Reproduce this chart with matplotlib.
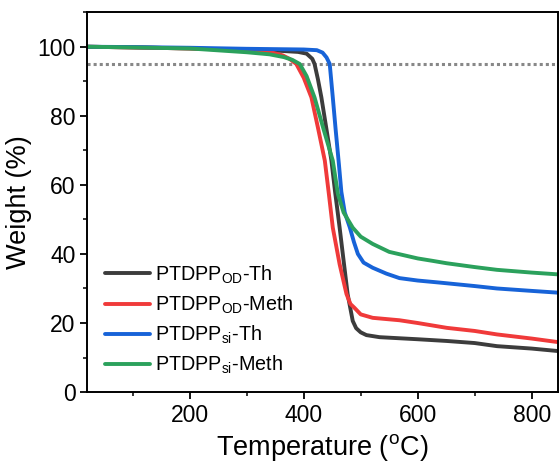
import matplotlib.pyplot as plt
from matplotlib.ticker import MultipleLocator

plt.rcParams['font.family'] = 'Liberation Sans'
plt.rcParams['mathtext.fontset'] = 'custom'
plt.rcParams['mathtext.rm'] = 'Liberation Sans'
plt.rcParams['mathtext.it'] = 'Liberation Sans'

# TGA curves
t_od_th = [20, 100, 200, 300, 360, 390, 405, 415, 419, 425, 431, 440, 448.6, 455, 463, 470, 477,
           486, 492, 500, 510, 533, 600, 651, 700, 739, 800, 845]
w_od_th = [100, 99.8, 99.5, 99, 98.8, 98.5, 98, 96.5, 95, 90.5, 85.3, 76, 67, 58, 47.6, 38, 28.4,
           20.6, 18.5, 17.3, 16.5, 15.9, 15.3, 14.8, 14.2, 13.3, 12.6, 11.9]

t_od_meth = [20, 100, 200, 300, 340, 363, 375, 387, 400, 413.5, 425, 437, 444, 451, 463, 475, 482,
             489, 500, 521, 568, 600, 651, 700, 739, 800, 845]
w_od_meth = [100, 99.8, 99.5, 99, 98.5, 97.5, 96.5, 95, 91, 85.3, 76.5, 67, 57.5, 47.6, 37, 28.4, 25.5,
             24.4, 22.5, 21.5, 20.8, 20, 18.6, 17.7, 16.7, 15.5, 14.5]

t_si_th = [20, 100, 200, 300, 400, 423, 433, 440, 445.6, 451, 456, 461.7, 466, 472, 481, 488, 495,
           505, 521, 545, 568, 600, 639, 700, 739, 800, 845]
w_si_th = [100, 99.9, 99.7, 99.4, 99.2, 99, 98.3, 96.9, 95, 85.3, 76, 66, 58, 52, 47.6, 43.5, 40,
           37.5, 36, 34.3, 33, 32.3, 31.7, 30.7, 30, 29.3, 28.8]

t_si_meth = [20, 100, 200, 300, 340, 365, 380, 393, 405, 419, 435, 451, 460, 470, 486, 500, 521,
             550, 600, 626, 651, 700, 739, 800, 845]
w_si_meth = [100, 99.8, 99.5, 98.4, 97.8, 97, 96.2, 95, 91.5, 85.3, 76, 67, 57.3, 52, 47.6, 45, 42.9,
             40.6, 38.7, 38, 37.3, 36.2, 35.4, 34.6, 34.1]

labels = [r'PTDPP$_{\mathrm{OD}}$-Th', r'PTDPP$_{\mathrm{OD}}$-Meth',
          r'PTDPP$_{\mathrm{si}}$-Th', r'PTDPP$_{\mathrm{si}}$-Meth']
colors = ['#3c3c3c', '#f03a3a', '#1763d8', '#2ba15c']

fig = plt.figure(figsize=(5.59, 4.69), dpi=100)
ax = fig.add_axes([0.156, 0.164, 0.842, 0.81])

ax.axhline(95, color='#888888', ls=(0, (1, 1)), lw=2.2, zorder=1)
for t, w, lab, c in zip([t_od_th, t_od_meth, t_si_th, t_si_meth],
                        [w_od_th, w_od_meth, w_si_th, w_si_meth], labels, colors):
    ax.plot(t, w, color=c, lw=2.8, label=lab, solid_capstyle='round')

ax.set_xlim(20, 846)
ax.set_ylim(0, 110)
ax.xaxis.set_major_locator(MultipleLocator(200))
ax.xaxis.set_minor_locator(MultipleLocator(100))
ax.yaxis.set_major_locator(MultipleLocator(20))
ax.yaxis.set_minor_locator(MultipleLocator(10))
ax.tick_params(which='major', length=5, width=1.3, labelsize=16.5, direction='out')
ax.tick_params(which='minor', length=3, width=1.1, direction='out')
for s in ax.spines.values():
    s.set_linewidth(1.4)

ax.set_xlabel(r'Temperature ($^{\mathrm{o}}$C)', fontsize=19.5)
ax.set_ylabel('Weight (%)', fontsize=19.5)

ax.legend(loc='lower left', bbox_to_anchor=(0.0, -0.005), frameon=False, fontsize=14.2,
          handlelength=2.3, handletextpad=0.25, labelspacing=0.4)

fig.savefig('out.png', dpi=100)
